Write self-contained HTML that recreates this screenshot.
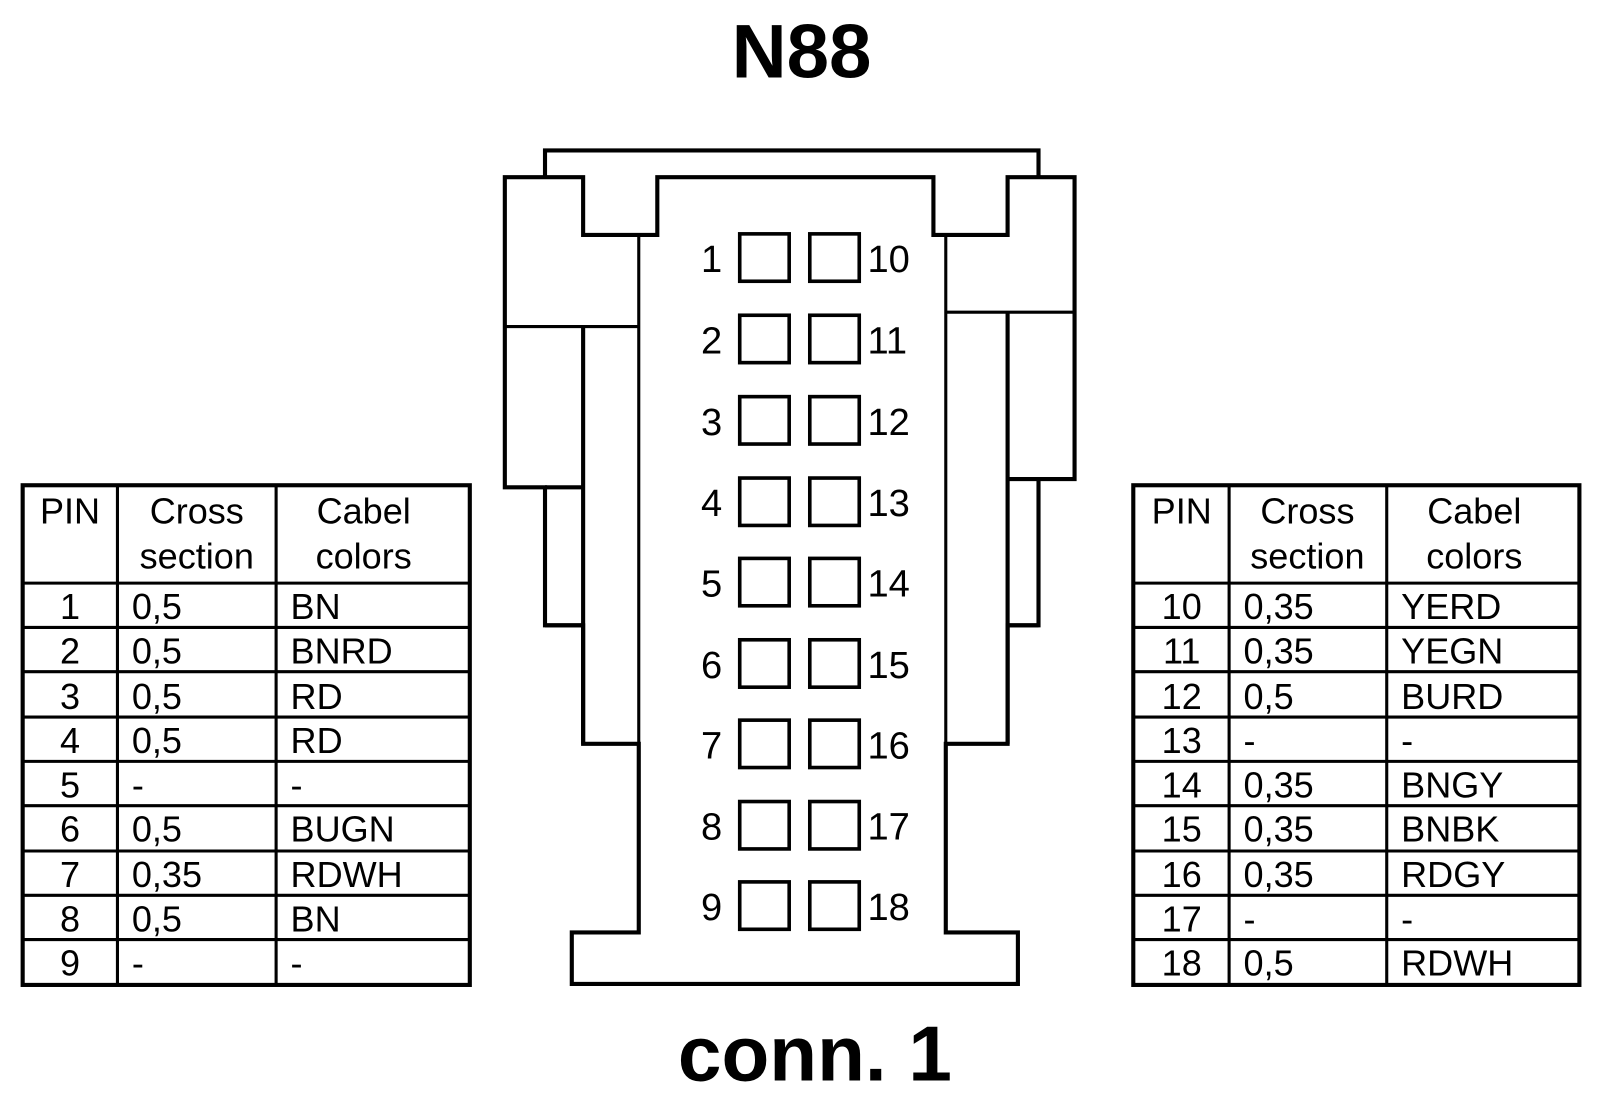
<!DOCTYPE html>
<html><head><meta charset="utf-8"><style>
html,body{margin:0;padding:0;background:#fff;}
svg{display:block;}
text{font-family:"Liberation Sans",Arial,sans-serif;fill:#000;}
</style></head><body>
<svg width="1600" height="1110" viewBox="0 0 1553 1077.4" preserveAspectRatio="none" xmlns="http://www.w3.org/2000/svg">
<rect x="0" y="0" width="1553" height="1078" fill="#fff"/>
<text x="778" y="75" font-size="74" font-weight="bold" text-anchor="middle">N88</text>
<text x="791" y="1049" font-size="76" font-weight="bold" text-anchor="middle">conn. 1</text>
<g fill="none" stroke="#000" stroke-width="4" stroke-linejoin="miter">
<path d="M529 172 V146 H1008 V172"/>
<path d="M490 172 H566 V228 H638 V172 H906 V228 H978 V172 H1043 V465 H1008 V607 H978 V722 H918 V905 H988 V955 H555 V905 H620 V722 H566 V607 H529 V473 H490 Z"/>
<path d="M620 228 V722 M918 228 V722" stroke-width="3"/>
<path d="M490 317 H620 M918 303 H1043" stroke-width="3"/>
<path d="M566 317 V722 M978 303 V722 M529 473 H566 M1008 465 H978 M529 607 H566 M978 607 H1008"/>
</g>
<g fill="none" stroke="#000" stroke-width="3.5">
<rect x="718" y="227" width="48" height="46"/><rect x="786" y="227" width="48" height="46"/>
<rect x="718" y="306" width="48" height="46"/><rect x="786" y="306" width="48" height="46"/>
<rect x="718" y="385" width="48" height="46"/><rect x="786" y="385" width="48" height="46"/>
<rect x="718" y="464" width="48" height="46"/><rect x="786" y="464" width="48" height="46"/>
<rect x="718" y="542" width="48" height="46"/><rect x="786" y="542" width="48" height="46"/>
<rect x="718" y="621" width="48" height="46"/><rect x="786" y="621" width="48" height="46"/>
<rect x="718" y="699" width="48" height="46"/><rect x="786" y="699" width="48" height="46"/>
<rect x="718" y="778" width="48" height="46"/><rect x="786" y="778" width="48" height="46"/>
<rect x="718" y="856" width="48" height="46"/><rect x="786" y="856" width="48" height="46"/>
</g>
<g font-size="37">
<g text-anchor="end">
<text x="701" y="264">1</text><text x="701" y="343">2</text><text x="701" y="422">3</text><text x="701" y="501">4</text><text x="701" y="579">5</text><text x="701" y="658">6</text><text x="701" y="736">7</text><text x="701" y="815">8</text><text x="701" y="893">9</text>
</g>
<text x="842" y="264">10</text><text x="842" y="343">11</text><text x="842" y="422">12</text><text x="842" y="501">13</text><text x="842" y="579">14</text><text x="842" y="658">15</text><text x="842" y="736">16</text><text x="842" y="815">17</text><text x="842" y="893">18</text>
</g>

<g fill="none" stroke="#000">
<rect x="22" y="471" width="434" height="485" stroke-width="4"/>
<path d="M114 471 V956 M268 471 V956" stroke-width="3"/>
<path d="M22 566 H456 M22 609 H456 M22 652 H456 M22 696 H456 M22 739 H456 M22 782 H456 M22 826 H456 M22 869 H456 M22 912 H456" stroke-width="3"/>
<rect x="1100" y="471" width="433" height="485" stroke-width="4"/>
<path d="M1193 471 V956 M1346 471 V956" stroke-width="3"/>
<path d="M1100 566 H1533 M1100 609 H1533 M1100 652 H1533 M1100 696 H1533 M1100 739 H1533 M1100 782 H1533 M1100 826 H1533 M1100 869 H1533 M1100 912 H1533" stroke-width="3"/>
</g>
<g font-size="35">
<text x="68" y="508" text-anchor="middle">PIN</text>
<text x="191" y="508" text-anchor="middle">Cross</text>
<text x="191" y="552" text-anchor="middle">section</text>
<text x="353" y="508" text-anchor="middle">Cabel</text>
<text x="353" y="552" text-anchor="middle">colors</text>
<g text-anchor="middle">
<text x="68" y="601">1</text><text x="68" y="644">2</text><text x="68" y="688">3</text><text x="68" y="731">4</text><text x="68" y="774">5</text><text x="68" y="817">6</text><text x="68" y="861">7</text><text x="68" y="904">8</text><text x="68" y="947">9</text>
</g>
<text x="128" y="601">0,5</text><text x="128" y="644">0,5</text><text x="128" y="688">0,5</text><text x="128" y="731">0,5</text><text x="128" y="774">-</text><text x="128" y="817">0,5</text><text x="128" y="861">0,35</text><text x="128" y="904">0,5</text><text x="128" y="947">-</text>
<text x="282" y="601">BN</text><text x="282" y="644">BNRD</text><text x="282" y="688">RD</text><text x="282" y="731">RD</text><text x="282" y="774">-</text><text x="282" y="817">BUGN</text><text x="282" y="861">RDWH</text><text x="282" y="904">BN</text><text x="282" y="947">-</text>

<text x="1147" y="508" text-anchor="middle">PIN</text>
<text x="1269" y="508" text-anchor="middle">Cross</text>
<text x="1269" y="552" text-anchor="middle">section</text>
<text x="1431" y="508" text-anchor="middle">Cabel</text>
<text x="1431" y="552" text-anchor="middle">colors</text>
<g text-anchor="middle">
<text x="1147" y="601">10</text><text x="1147" y="644">11</text><text x="1147" y="688">12</text><text x="1147" y="731">13</text><text x="1147" y="774">14</text><text x="1147" y="817">15</text><text x="1147" y="861">16</text><text x="1147" y="904">17</text><text x="1147" y="947">18</text>
</g>
<text x="1207" y="601">0,35</text><text x="1207" y="644">0,35</text><text x="1207" y="688">0,5</text><text x="1207" y="731">-</text><text x="1207" y="774">0,35</text><text x="1207" y="817">0,35</text><text x="1207" y="861">0,35</text><text x="1207" y="904">-</text><text x="1207" y="947">0,5</text>
<text x="1360" y="601">YERD</text><text x="1360" y="644">YEGN</text><text x="1360" y="688">BURD</text><text x="1360" y="731">-</text><text x="1360" y="774">BNGY</text><text x="1360" y="817">BNBK</text><text x="1360" y="861">RDGY</text><text x="1360" y="904">-</text><text x="1360" y="947">RDWH</text>
</g>
</svg>
</body></html>
